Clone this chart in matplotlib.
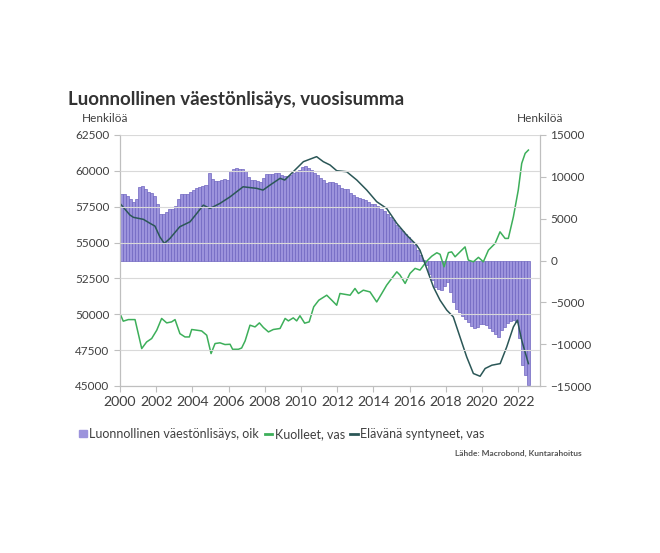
import numpy as np
import matplotlib
matplotlib.use("Agg")
import matplotlib.pyplot as plt
from matplotlib.lines import Line2D
from matplotlib.patches import Patch

plt.rcParams["font.family"] = ["Lato", "DejaVu Sans"]

# Luonnollinen väestönlisäys (oikea akseli), kahden kuukauden välein 2000 -> 2022
natural_increase = [
    8000, 8000, 7700, 7400, 7050, 7400,        # 2000
    8800, 8900, 8600, 8200, 8100, 7700,        # 2001
    6800, 5500, 5600, 5800, 6100, 6100,        # 2002
    6500, 7400, 7900, 7950, 7950, 8200,        # 2003
    8400, 8700, 8800, 8900, 9000, 10400,       # 2004
    9700, 9500, 9550, 9650, 9800, 9650,        # 2005
    10700, 10950, 11000, 10950, 10900, 10700,  # 2006
    10000, 9650, 9600, 9500, 9400, 9900,       # 2007
    10300, 10350, 10350, 10450, 10450, 10250,  # 2008
    10150, 10100, 10250, 10400, 10600, 10850,  # 2009
    11150, 11280, 11100, 10800, 10450, 10200,  # 2010
    9900, 9600, 9250, 9350, 9400, 9250,        # 2011
    9000, 8650, 8600, 8500, 8100, 7850,        # 2012
    7600, 7500, 7400, 7200, 6950, 6800,        # 2013
    6700, 6550, 6200, 5900, 5600, 5250,        # 2014
    4800, 4200, 3900, 3500, 3200, 2800,        # 2015
    2300, 1800, 1300, 700, 100, -500,          # 2016
    -1600, -2300, -3200, -3400, -3550, -3000,  # 2017
    -2600, -3800, -5000, -5800, -6200, -6600,  # 2018
    -7000, -7400, -7800, -8100, -8000, -7600,  # 2019
    -7600, -7750, -8100, -8400, -8800, -9100,  # 2020
    -8300, -7900, -7500, -7200, -7150, -7300,  # 2021
    -9300, -12500, -13700, -14900,             # 2022
]
bar_years = 2000 + (np.arange(len(natural_increase)) + 0.5) / 6

# Elävänä syntyneet (vasen akseli)
births_years = [2000.0, 2000.55, 2000.74, 2001.29, 2001.66, 2001.93, 2002.2, 2002.45,
                2002.76, 2003.3, 2003.87, 2004.24, 2004.6, 2004.97, 2005.52, 2006.08,
                2006.8, 2007.55, 2007.9, 2008.29, 2008.84, 2009.1, 2009.57, 2010.13,
                2010.86, 2011.23, 2011.6, 2011.97, 2012.52, 2013.08, 2013.63, 2014.18,
                2014.73, 2015.29, 2015.84, 2016.39, 2016.57, 2016.94, 2017.31, 2017.68,
                2018.05, 2018.41, 2018.78, 2019.15, 2019.52, 2019.89, 2020.17, 2020.54,
                2021.0, 2021.36, 2021.73, 2021.95, 2022.19, 2022.56]
births = [57730, 56920, 56760, 56620, 56340, 56150, 55400, 54940,
          55290, 56100, 56450, 57030, 57610, 57380, 57730, 58190,
          58890, 58780, 58660, 59010, 59480, 59360, 59940, 60640,
          60990, 60640, 60410, 60010, 59940, 59360, 58660, 57850,
          57380, 56340, 55520, 54820, 54470, 53200, 51910, 50980,
          50290, 49820, 48420, 47030, 45870, 45680, 46220, 46450,
          46560, 47720, 49120, 49590, 48190, 46560]

# Kuolleet (vasen akseli)
deaths_years = [2000.0, 2000.18, 2000.46, 2000.83, 2001.01, 2001.2, 2001.47, 2001.75,
                2002.03, 2002.3, 2002.58, 2002.85, 2003.04, 2003.31, 2003.59, 2003.83,
                2003.96, 2004.24, 2004.51, 2004.79, 2005.03, 2005.25, 2005.52, 2005.8,
                2006.08, 2006.22, 2006.54, 2006.72, 2006.91, 2007.18, 2007.46, 2007.7,
                2007.92, 2008.2, 2008.47, 2008.84, 2009.12, 2009.3, 2009.57, 2009.76,
                2009.94, 2010.2, 2010.45, 2010.7, 2010.98, 2011.42, 2011.7, 2011.97,
                2012.15, 2012.71, 2012.98, 2013.17, 2013.44, 2013.81, 2014.18, 2014.46,
                2014.73, 2015.01, 2015.29, 2015.47, 2015.75, 2016.02, 2016.3, 2016.57,
                2016.94, 2017.22, 2017.5, 2017.68, 2017.9, 2018.14, 2018.32, 2018.51,
                2018.78, 2019.06, 2019.24, 2019.52, 2019.8, 2020.07, 2020.35, 2020.72,
                2020.99, 2021.27, 2021.45, 2021.73, 2022.0, 2022.19, 2022.38, 2022.56]
deaths = [50050, 49520, 49630, 49630, 48650, 47610, 48070, 48310,
          48890, 49710, 49400, 49470, 49630, 48650, 48420, 48420,
          48940, 48890, 48840, 48540, 47260, 47960, 48010, 47890,
          47910, 47560, 47560, 47650, 48140, 49240, 49120, 49400,
          49080, 48770, 48940, 49010, 49710, 49540, 49750, 49540,
          49900, 49380, 49470, 50520, 50980, 51330, 50980, 50630,
          51450, 51330, 51800, 51450, 51680, 51560, 50860, 51450,
          52030, 52500, 52960, 52730, 52150, 52850, 53200, 53080,
          53700, 54050, 54290, 54180, 53310, 54300, 54350, 54010,
          54350, 54700, 53780, 53660, 53970, 53660, 54470, 54940,
          55750, 55290, 55290, 56800, 58660, 60520, 61220, 61450]

left_ticks = [45000, 47500, 50000, 52500, 55000, 57500, 60000, 62500]
right_ticks = [-15000, -10000, -5000, 0, 5000, 10000, 15000]
year_ticks = list(range(2000, 2023, 2))

bar_color = "#9c93dc"
bar_edge = "#6f65c0"
deaths_color = "#3daf5a"
births_color = "#2b5757"
text_color = "#404040"
axis_color = "#bfbfbf"

W, H = 660, 553
fig = plt.figure(figsize=(W / 100, H / 100), dpi=100)
ax = fig.add_axes([120 / W, 1 - 386 / H, 420 / W, 251 / H])
ax_bar = ax.twinx()
ax.set_zorder(ax_bar.get_zorder() + 1)
ax.patch.set_visible(False)

ax_bar.bar(bar_years, natural_increase, width=1 / 6, color=bar_color,
           edgecolor=bar_edge, linewidth=0.5)
ax.plot(deaths_years, deaths, color=deaths_color, lw=1.1)
ax.plot(births_years, births, color=births_color, lw=1.1)

ax.set_xlim(2000, 2023.2)
ax.set_ylim(45000, 62500)
ax_bar.set_ylim(-15000, 15000)

ax.set_xticks(year_ticks)
ax.set_yticks(left_ticks)
ax_bar.set_yticks(right_ticks)
ax.grid(axis="y", color="#d9d9d9", lw=0.8)
ax.set_axisbelow(False)

for a in (ax, ax_bar):
    a.spines["top"].set_visible(False)
    for side in ("left", "right", "bottom"):
        a.spines[side].set_color(axis_color)
    a.tick_params(colors=axis_color, labelcolor=text_color, length=4, width=0.8)
ax.tick_params(axis="y", labelsize=8.5)
ax_bar.tick_params(axis="y", labelsize=8.5)
ax.tick_params(axis="x", labelsize=10.2)

fig.text(68 / W, 1 - 100 / H, "Luonnollinen väestönlisäys, vuosisumma",
         fontsize=13.5, fontweight="bold", color="#333333", va="center")
fig.text(82 / W, 1 - 119 / H, "Henkilöä", fontsize=8.5, color=text_color, va="center")
fig.text(517 / W, 1 - 119 / H, "Henkilöä", fontsize=8.5, color=text_color, va="center")
fig.text(582 / W, 1 - 453 / H, "Lähde: Macrobond, Kuntarahoitus", fontsize=6,
         fontweight="bold", color="#555555", ha="right", va="center")

handles = [
    Patch(color=bar_color, label="Luonnollinen väestönlisäys, oik"),
    Line2D([], [], color=deaths_color, lw=2, label="Kuolleet, vas"),
    Line2D([], [], color=births_color, lw=2, label="Elävänä syntyneet, vas"),
]
fig.legend(handles=handles, loc="center left", bbox_to_anchor=(68 / W, 1 - 434 / H),
           ncol=3, frameon=False, fontsize=9.0, handlelength=0.6, handleheight=0.5,
           handletextpad=0.2, columnspacing=0.45, labelcolor=text_color)

fig.savefig("out.png", dpi=100)
